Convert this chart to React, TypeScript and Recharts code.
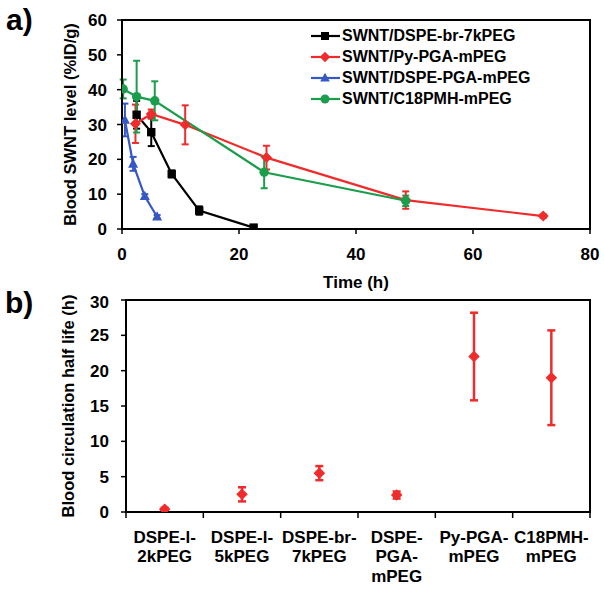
import React from 'react';
import { ComposedChart, Line, XAxis, YAxis, ErrorBar, ReferenceArea } from 'recharts';

const FONT = '"Liberation Sans", Arial, Helvetica, sans-serif';

// ---- panel a) : blood SWNT level vs time ----
const timeTicks = [0, 20, 40, 60, 80];
const levelTicks = [0, 10, 20, 30, 40, 50, 60];

const brName = 'SWNT/DSPE-br-7kPEG';
const brTime = [2.5, 5, 8.5, 13.2, 22.5];
const brLevel = [32.8, 27.8, 15.8, 5.3, 0.4];
const brErr = [4, 4, 1, 1.2, 0.3];

const pyName = 'SWNT/Py-PGA-mPEG';
const pyTime = [2.3, 5, 10.8, 24.7, 48.5, 72];
const pyLevel = [30.2, 33, 29.9, 20.5, 8.3, 3.7];
const pyErr = [5.5, 1.3, 5.6, 3.4, 2.5, 0.5];

const dspeName = 'SWNT/DSPE-PGA-mPEG';
const dspeTime = [0.5, 1.9, 3.9, 6];
const dspeLevel = [31.3, 18.7, 9.4, 3.5];
const dspeErr = [4.7, 2, 0.6, 0.5];

const c18Name = 'SWNT/C18PMH-mPEG';
const c18Time = [0.2, 2.5, 5.6, 24.3, 48.5];
const c18Level = [40.2, 38, 36.8, 16.3, 8.1];
const c18Err = [2.7, 10.3, 5.6, 4.6, 1.5];

// ---- panel b) : half life ----
const halfLifeNames = ['DSPE-l-2kPEG', 'DSPE-l-5kPEG', 'DSPE-br-7kPEG', 'DSPE-PGA-mPEG', 'Py-PGA-mPEG', 'C18PMH-mPEG'];
const halfLifeLabelLines = [
  ['DSPE-l-', '2kPEG'],
  ['DSPE-l-', '5kPEG'],
  ['DSPE-br-', '7kPEG'],
  ['DSPE-', 'PGA-', 'mPEG'],
  ['Py-PGA-', 'mPEG'],
  ['C18PMH-', 'mPEG'],
];
const halfLifeValues = [0.4, 2.5, 5.5, 2.4, 22.0, 19.0];
const halfLifeErr = [0.2, 1.0, 1.0, 0.5, 6.2, 6.7];
const halfLifeTicks = [0, 5, 10, 15, 20, 25, 30];

type Shape = 'square' | 'diamond' | 'triangle' | 'circle';

const series: { name: string; color: string; shape: Shape; t: number[]; v: number[]; e: number[] }[] = [
  { name: brName, color: '#000000', shape: 'square', t: brTime, v: brLevel, e: brErr },
  { name: pyName, color: '#ef2b2b', shape: 'diamond', t: pyTime, v: pyLevel, e: pyErr },
  { name: dspeName, color: '#3658c4', shape: 'triangle', t: dspeTime, v: dspeLevel, e: dspeErr },
  { name: c18Name, color: '#1b9e4b', shape: 'circle', t: c18Time, v: c18Level, e: c18Err },
];

const seriesData = series.map((s) => s.t.map((t, i) => ({ t, v: s.v[i], e: s.e[i] })));

const halfLifeData = halfLifeNames.map((name, i) => ({ x: i + 0.5, name, v: halfLifeValues[i], e: halfLifeErr[i] }));
const categoryTicks: number[] = [];
for (let i = 0; i <= halfLifeNames.length * 2; i++) categoryTicks.push(i / 2);

function Marker({ cx, cy, shape, color, s = 1 }: any) {
  if (cx == null || cy == null || isNaN(cx) || isNaN(cy)) return null;
  if (shape === 'square') return <rect x={cx - 4.2 * s} y={cy - 4.2 * s} width={8.4 * s} height={8.4 * s} fill={color} />;
  if (shape === 'diamond')
    return <polygon points={`${cx},${cy - 5.5 * s} ${cx + 5.5 * s},${cy} ${cx},${cy + 5.5 * s} ${cx - 5.5 * s},${cy}`} fill={color} />;
  if (shape === 'triangle')
    return <polygon points={`${cx},${cy - 5.5 * s} ${cx + 5 * s},${cy + 3.8 * s} ${cx - 5 * s},${cy + 3.8 * s}`} fill={color} />;
  return <circle cx={cx} cy={cy} r={4.7 * s} fill={color} />;
}

const tickStyle = { fontFamily: FONT, fontSize: 17, fontWeight: 'bold', fill: '#000' };

function YTitle({ viewBox, text, cxOffset }: any) {
  if (!viewBox) return null;
  const cx = viewBox.x + cxOffset;
  const cy = viewBox.y + viewBox.height / 2;
  return (
    <text
      x={cx}
      y={cy}
      transform={`rotate(-90 ${cx} ${cy})`}
      textAnchor="middle"
      dominantBaseline="central"
      style={{ fontFamily: FONT, fontSize: 16.5, fontWeight: 'bold', fill: '#000' }}
    >
      {text}
    </text>
  );
}

function XTitle({ viewBox, text }: any) {
  if (!viewBox) return null;
  return (
    <text
      x={viewBox.x + viewBox.width / 2}
      y={viewBox.y + 59}
      textAnchor="middle"
      style={{ fontFamily: FONT, fontSize: 17, fontWeight: 'bold', fill: '#000' }}
    >
      {text}
    </text>
  );
}

function CategoryTick({ x, y, payload }: any) {
  const v = payload.value as number;
  if (Number.isInteger(v)) return <line x1={x} y1={y} x2={x} y2={y + 6} stroke="#000" strokeWidth={1.5} />;
  const lines = halfLifeLabelLines[Math.floor(v)] || [];
  return (
    <text x={x} y={y + 30.5} textAnchor="middle" style={tickStyle}>
      {lines.map((l, i) => (
        <tspan key={i} x={x} dy={i === 0 ? 0 : 19.7}>
          {l}
        </tspan>
      ))}
    </text>
  );
}

function LegendBox() {
  return (
    <div style={{ position: 'absolute', left: 310, top: 26, fontFamily: FONT, fontSize: 16, fontWeight: 'bold', color: '#000' }}>
      {series.map((s) => (
        <div key={s.name} style={{ height: 20.9, display: 'flex', alignItems: 'center', whiteSpace: 'nowrap' }}>
          <svg width={32} height={20} style={{ display: 'block' }}>
            <line x1={1} y1={10} x2={30} y2={10} stroke={s.color} strokeWidth={2.2} />
            <Marker cx={15} cy={10} shape={s.shape} color={s.color} s={0.95} />
          </svg>
          <span style={{ lineHeight: '20px' }}>{s.name}</span>
        </div>
      ))}
    </div>
  );
}

export default function App() {
  return (
    <div style={{ position: 'absolute', left: 0, top: 0, width: 604, height: 589, background: '#fff', overflow: 'hidden' }}>
      <svg width={604} height={589} style={{ position: 'absolute', left: 0, top: 0 }}>
        <text x={6} y={30} style={{ fontFamily: FONT, fontSize: 30, fontWeight: 'bold', fill: '#000' }}>
          a)
        </text>
        <text x={5} y={313} style={{ fontFamily: FONT, fontSize: 30, fontWeight: 'bold', fill: '#000' }}>
          b)
        </text>
      </svg>

      <div style={{ position: 'absolute', left: 0, top: 0 }}>
        <ComposedChart width={604} height={295} margin={{ top: 20, right: 14, bottom: 0, left: 0 }}>
          <XAxis
            type="number"
            dataKey="t"
            domain={[0, 80]}
            ticks={timeTicks}
            allowDataOverflow
            height={66}
            axisLine={{ stroke: '#000', strokeWidth: 2 }}
            tickLine={{ stroke: '#000', strokeWidth: 1.5 }}
            tickSize={5}
            tickMargin={14}
            tick={tickStyle}
            label={<XTitle text="Time (h)" />}
          />
          <YAxis
            type="number"
            domain={[0, 60]}
            ticks={levelTicks}
            allowDataOverflow
            width={122}
            axisLine={{ stroke: '#000', strokeWidth: 2 }}
            tickLine={{ stroke: '#000', strokeWidth: 1.5 }}
            tickSize={5}
            tickMargin={10}
            tick={tickStyle}
            label={<YTitle text="Blood SWNT level (%ID/g)" cxOffset={70} />}
          />
          <ReferenceArea x1={0} x2={80} y1={0} y2={60} fill="none" fillOpacity={0} stroke="#000" strokeWidth={2} ifOverflow="visible" />
          {series.map((s, si) => (
            <Line
              key={s.name}
              data={seriesData[si]}
              dataKey="v"
              name={s.name}
              type="linear"
              stroke={s.color}
              strokeWidth={2.2}
              isAnimationActive={false}
              dot={(p: any) => <Marker key={`${s.name}-${p.index}`} cx={p.cx} cy={p.cy} shape={s.shape} color={s.color} />}
              activeDot={false}
            >
              <ErrorBar dataKey="e" direction="y" width={3.5} strokeWidth={2} stroke={s.color} isAnimationActive={false} />
            </Line>
          ))}
        </ComposedChart>
        <LegendBox />
      </div>

      <div style={{ position: 'absolute', left: 0, top: 292 }}>
        <ComposedChart width={604} height={297} data={halfLifeData} margin={{ top: 8, right: 14, bottom: 0, left: 0 }}>
          <XAxis
            type="number"
            dataKey="x"
            domain={[0, halfLifeNames.length]}
            ticks={categoryTicks}
            interval={0}
            allowDataOverflow
            height={77}
            axisLine={{ stroke: '#000', strokeWidth: 2 }}
            tickLine={false}
            tickSize={0}
            tickMargin={0}
            tick={<CategoryTick />}
          />
          <YAxis
            type="number"
            domain={[0, 30]}
            ticks={halfLifeTicks}
            allowDataOverflow
            width={126}
            axisLine={{ stroke: '#000', strokeWidth: 2 }}
            tickLine={{ stroke: '#000', strokeWidth: 1.5 }}
            tickSize={5}
            tickMargin={12}
            tick={tickStyle}
            label={<YTitle text="Blood circulation half life (h)" cxOffset={68} />}
          />
          <ReferenceArea x1={0} x2={halfLifeNames.length} y1={0} y2={30} fill="none" fillOpacity={0} stroke="#000" strokeWidth={2} ifOverflow="visible" />
          <Line
            dataKey="v"
            stroke="none"
            isAnimationActive={false}
            activeDot={false}
            dot={(p: any) => <Marker key={`hl-${p.index}`} cx={p.cx} cy={p.cy} shape="diamond" color="#ef2b2b" s={1.05} />}
          >
            <ErrorBar dataKey="e" direction="y" width={4} strokeWidth={2.5} stroke="#ef2b2b" isAnimationActive={false} />
          </Line>
        </ComposedChart>
      </div>
    </div>
  );
}
